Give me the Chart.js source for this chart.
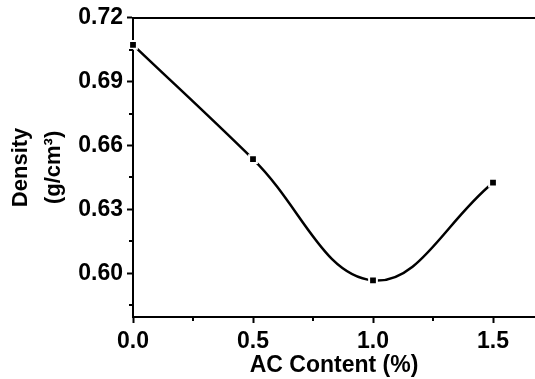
<!DOCTYPE html>
<html>
<head>
    <title>Density vs AC Content</title>
    <script src="https://cdn.jsdelivr.net/npm/chart.js"></script>
    <style>
        body { margin: 0; background: #fff; }
        canvas { display: block; }
    </style>
</head>
<body>
    <canvas id="myChart" width="535" height="379"></canvas>

    <script>
        // data
        const acContent = [0.0, 0.5, 1.0, 1.5];
        const density = [0.7073, 0.6536, 0.5966, 0.6425];

        const xTicks = [0.0, 0.5, 1.0, 1.5];
        const yTicks = [0.60, 0.63, 0.66, 0.69, 0.72];
        const xMinor = [0.25, 0.75, 1.25];
        const yMinor = [0.585, 0.615, 0.645, 0.675, 0.705];

        const xTitle = 'AC Content (%)';
        const yTitle = ['Density', '(g/cm\u00B3)'];

        Chart.defaults.font.family = '"Liberation Sans", Arial, sans-serif';
        Chart.defaults.font.weight = 'bold';
        Chart.defaults.font.size = 23;
        Chart.defaults.color = '#000';

        // short minor tick marks outside the axes
        const minorTicks = {
            id: 'minorTicks',
            afterDraw(chart) {
                const ctx = chart.ctx;
                const x = chart.scales.x, y = chart.scales.y;
                ctx.save();
                ctx.strokeStyle = '#000';
                ctx.lineWidth = 2;
                ctx.beginPath();
                xMinor.forEach(v => {
                    const px = Math.round(x.getPixelForValue(v));
                    ctx.moveTo(px, x.top);
                    ctx.lineTo(px, x.top + 4);
                });
                yMinor.forEach(v => {
                    const py = Math.round(y.getPixelForValue(v));
                    ctx.moveTo(y.right, py);
                    ctx.lineTo(y.right - 4, py);
                });
                ctx.stroke();
                ctx.restore();
            }
        };

        const data = acContent.map((v, i) => ({ x: v, y: density[i] }));

        new Chart(document.getElementById('myChart').getContext('2d'), {
            type: 'line',
            data: {
                datasets: [{
                    data: data,
                    borderColor: '#000',
                    borderWidth: 2.5,
                    tension: 0.4,
                    pointStyle: 'rect',
                    pointRadius: 5.5,
                    pointBackgroundColor: '#000',
                    pointBorderColor: '#fff',
                    pointBorderWidth: 2,
                    clip: false
                }]
            },
            options: {
                responsive: false,
                animation: false,
                layout: { autoPadding: false, padding: { top: 17, right: 0, left: 0, bottom: 0 } },
                plugins: { legend: { display: false }, tooltip: { enabled: false } },
                scales: {
                    x: {
                        type: 'linear',
                        min: 0,
                        max: 1.675,
                        afterBuildTicks: s => { s.ticks = xTicks.map(v => ({ value: v })); },
                        afterFit: s => { s.height = 62; },
                        ticks: {
                            padding: 5,
                            callback: v => v.toFixed(1)
                        },
                        grid: { drawOnChartArea: false, tickLength: 6, tickWidth: 2, tickColor: '#000' },
                        border: { color: '#000', width: 2 },
                        title: { display: true, text: xTitle, padding: { top: 0, bottom: 0 } }
                    },
                    x2: {
                        type: 'linear',
                        position: 'top',
                        min: 0,
                        max: 1.675,
                        ticks: { display: false },
                        grid: { display: false },
                        border: { color: '#000', width: 2 },
                        afterFit: s => { s.height = 0; }
                    },
                    y: {
                        min: 0.5794,
                        max: 0.72,
                        afterBuildTicks: s => { s.ticks = yTicks.map(v => ({ value: v })); },
                        afterFit: s => { s.width = 133; },
                        ticks: {
                            padding: 4,
                            callback: v => v.toFixed(2)
                        },
                        grid: { drawOnChartArea: false, tickLength: 6, tickWidth: 2, tickColor: '#000' },
                        border: { color: '#000', width: 2 },
                        title: {
                            display: true, text: yTitle,
                            font: { size: 22, lineHeight: 1.5 },
                            padding: { top: 4, bottom: 0 }
                        }
                    }
                }
            },
            plugins: [minorTicks]
        });
    </script>
</body>
</html>
